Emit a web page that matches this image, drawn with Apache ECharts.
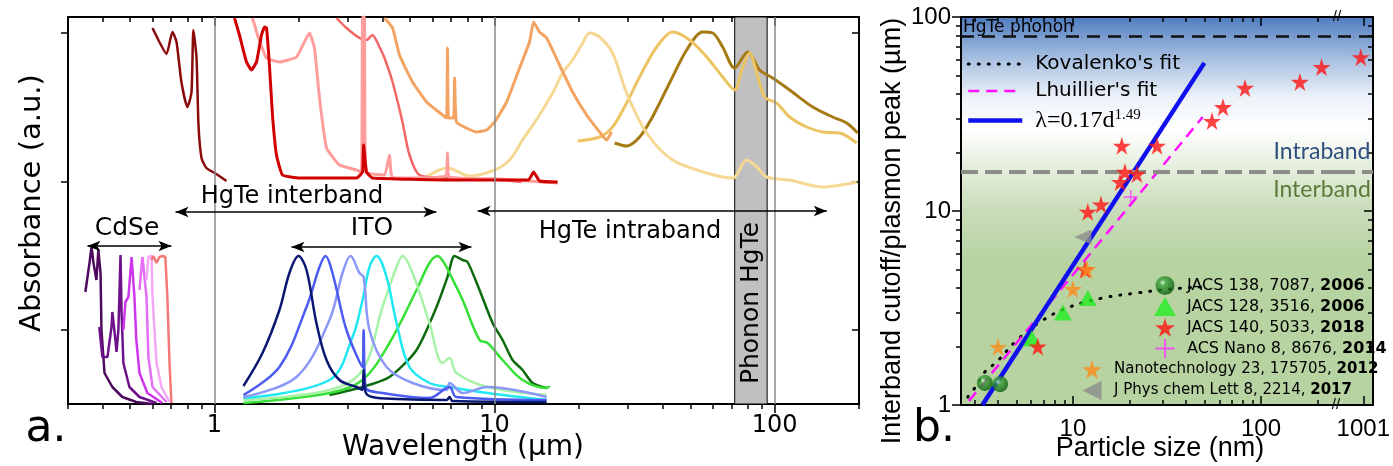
<!DOCTYPE html>
<html><head><meta charset="utf-8">
<script src="https://cdn.jsdelivr.net/npm/echarts@6/dist/echarts.min.js"></script>
<style>html,body{margin:0;padding:0;background:#fff}#c{width:1393px;height:466px}</style>
</head><body><div id="c"></div><script>
// ---------- Panel a: absorbance spectra (x: wavelength in µm, y: absorbance a.u.) ----------
const wlMin = 0.3, wlMax = 200;
const wlLabelTicks = [1, 10, 100];
const wlMinorTicks = [0.3,0.4,0.5,0.6,0.7,0.8,0.9,2,3,4,5,6,7,8,9,20,30,40,50,60,70,80,90,200];
const absMin = 0, absMax = 3.87;
const absTicks = [0.74, 2.22, 3.71];
const phononBand = [72, 94];
const wlGridLines = [1, 10, 100];

// CdSe spectra
const cdse1 = [[0.346,1.12],[0.358,1.41],[0.364,1.57],[0.370,1.41],[0.379,1.24],[0.385,1.54],[0.392,1.31],[0.395,0.74],[0.405,0.31],[0.432,0.17],[0.469,0.07],[0.526,0.02],[0.601,0.0]];
const cdse2 = [[0.388,0.77],[0.398,0.47],[0.415,0.47],[0.429,0.77],[0.432,0.92],[0.443,0.64],[0.447,0.52],[0.454,0.74],[0.462,1.49],[0.466,0.91],[0.473,0.41],[0.497,0.17],[0.540,0.07],[0.621,0.01]];
const cdse3 = [[0.473,0.74],[0.481,1.02],[0.493,1.07],[0.506,1.47],[0.509,1.48],[0.518,1.07],[0.526,0.64],[0.540,0.31],[0.576,0.11],[0.652,0.01]];
const cdse4 = [[0.540,1.14],[0.553,1.47],[0.562,1.48],[0.572,1.07],[0.581,0.47],[0.601,0.17],[0.674,0.02]];
const cdse5 = [[0.572,1.24],[0.581,1.47],[0.596,1.48],[0.601,1.07],[0.621,0.41],[0.647,0.17],[0.691,0.02]];
const cdse6 = [[0.596,1.44],[0.605,1.48],[0.621,1.41],[0.636,1.47],[0.652,1.48],[0.668,1.47],[0.679,1.07],[0.691,0.41],[0.702,0.01]];

// HgTe spectra
const hgte1 = [[0.601,3.76],[0.636,3.62],[0.674,3.50],[0.708,3.72],[0.732,3.62],[0.762,3.22],[0.801,2.97],[0.828,3.12],[0.841,3.74],[0.863,3.46],[0.877,2.79],[0.899,2.46],[0.936,2.36],[1.016,2.30],[1.104,2.23]];
const hgte2 = [[1.179,3.86],[1.228,3.69],[1.301,3.42],[1.356,3.34],[1.413,3.42],[1.472,3.69],[1.509,3.77],[1.534,3.76],[1.571,3.39],[1.611,2.89],[1.665,2.49],[1.749,2.29],[2.012,2.26],[3.215,2.26],[3.378,2.32],[3.407,2.59],[3.49,2.32],[3.664,2.26],[6.904,2.24],[13.2,2.24],[13.78,2.32],[14.47,2.23],[16.79,2.22]];
const hgte3 = [[1.367,3.86],[1.425,3.69],[1.534,3.46],[1.706,3.42],[1.963,3.47],[2.184,3.71],[2.275,3.56],[2.371,3.06],[2.512,2.56],[2.795,2.39],[3.215,2.34],[3.35,2.32],[3.378,3.87],[3.432,3.87],[3.46,2.32],[4.046,2.29],[4.215,2.49],[4.323,2.26],[6.68,2.28],[6.79,2.51],[6.904,2.27],[10.42,2.25],[16.79,2.21]];
const hgte4 = [[2.727,3.86],[2.960,3.76],[3.294,3.66],[3.49,3.64],[3.664,3.69],[3.882,3.57],[4.046,3.46],[4.323,3.22],[4.69,2.82],[4.969,2.49],[5.395,2.29],[6.74,2.26],[10.42,2.24],[12.5,2.22]];
const hgte5 = [[4.046,3.86],[4.323,3.76],[4.577,3.49],[5.096,3.22],[5.72,3.02],[6.52,2.89],[6.74,2.86],[6.79,3.56],[6.85,2.86],[7.14,2.86],[7.20,3.26],[7.31,2.82],[7.94,2.76],[8.62,2.72],[9.36,2.74],[10,2.82],[11.04,3.02],[12.28,3.36],[13.33,3.62],[13.78,3.82],[14.47,3.72],[15.34,3.66],[17.06,3.39],[18.99,3.12],[21.31,2.89],[23.71,2.72],[25.12,2.64],[26.16,2.72]];
const hgte6 = [[5.62,2.26],[6.79,2.36],[8.138,2.28],[10,2.34],[11.31,2.44],[12.59,2.64],[14.24,2.86],[16.11,3.11],[17.49,3.31],[18.99,3.44],[20.45,3.59],[21.84,3.71],[23.71,3.67],[26.38,3.51],[29.6,3.11],[34.9,2.71],[43.2,2.44],[57.2,2.31],[70.8,2.26],[79.4,2.44],[86.3,2.37],[93.6,2.27],[113.1,2.24],[148.3,2.17],[196.3,2.22]];
const hgte7 = [[19.8,2.63],[23.71,2.67],[26.38,2.77],[29.6,3.01],[32.94,3.27],[37.9,3.57],[43.2,3.72],[49.69,3.64],[57.2,3.47],[65.2,3.27],[71.9,3.14],[76.9,3.37],[81.38,3.51],[86.3,3.31],[92.1,3.07],[101.6,3.01],[113.1,2.87],[130.1,2.77],[148.3,2.72],[170.6,2.71],[196.3,2.61]];
const hgte8 = [[26.83,2.61],[29.6,2.58],[32.94,2.67],[36.6,2.87],[42.15,3.21],[48.5,3.54],[55.3,3.72],[60.1,3.71],[65.2,3.57],[71.9,3.36],[80.1,3.52],[88.36,3.34],[98.4,3.26],[113.1,3.14],[136.7,2.97],[161.1,2.87],[180.7,2.81],[197.8,2.71]];

// ITO spectra
const ito1 = [[1.269,0.18],[1.484,0.51],[1.706,0.94],[1.852,1.31],[1.995,1.48],[2.131,1.34],[2.312,0.81],[2.512,0.44],[2.795,0.24],[3.215,0.17],[3.378,0.14],[3.407,0.34],[3.46,0.12],[3.664,0.07],[4.467,0.05],[6.74,0.04],[6.904,0.07],[7.08,0.03],[15.34,0.02]];
const ito2 = [[1.269,0.09],[1.706,0.37],[2.131,0.97],[2.371,1.37],[2.490,1.48],[2.638,1.31],[2.960,0.74],[3.378,0.37],[3.407,0.74],[3.46,0.17],[3.98,0.11],[5.857,0.06],[6.904,0.17],[7.31,0.07],[15.34,0.04]];
const ito3 = [[1.269,0.07],[1.963,0.27],[2.574,0.84],[2.866,1.31],[3.061,1.48],[3.294,1.31],[3.407,1.27],[3.576,0.74],[4.115,0.37],[5.096,0.21],[6.74,0.14],[6.904,0.21],[7.69,0.11],[9.44,0.17],[15.34,0.07]];
const ito4 = [[1.269,0.06],[2.574,0.24],[3.112,0.67],[3.378,1.04],[3.576,1.37],[3.79,1.48],[4.115,1.27],[4.467,0.81],[4.969,0.37],[5.857,0.21],[6.904,0.17],[9.44,0.11],[15.34,0.04]];
const ito5 = [[1.269,0.04],[2.574,0.14],[3.378,0.34],[3.98,0.97],[4.467,1.37],[4.69,1.48],[5.096,1.31],[5.857,0.81],[6.52,0.41],[6.904,0.46],[7.31,0.31],[9.44,0.17],[15.34,0.09]];
const ito6 = [[1.269,0.01],[2.574,0.11],[3.378,0.24],[4.215,0.61],[5.265,1.14],[5.857,1.41],[6.256,1.48],[6.74,1.37],[6.904,1.31],[7.69,1.04],[8.836,0.64],[9.44,0.61],[10.68,0.44],[12.59,0.24],[15.34,0.16],[15.71,0.18]];
const ito7 = [[2.574,0.09],[3.378,0.17],[4.215,0.27],[5.265,0.54],[6.206,0.97],[6.79,1.27],[7.196,1.48],[7.69,1.44],[8.01,1.42],[8.836,1.14],[9.84,0.81],[10.68,0.64],[11.59,0.44],[12.59,0.34],[13.67,0.21],[15.34,0.16]];

// Range arrows (from, to, level)
const rangeArrows = [
  {from:0.352, to:0.702, y:1.58},   // CdSe
  {from:0.726, to:6.2, y:1.92},     // HgTe interband
  {from:1.883, to:8.27, y:1.57},    // ITO
  {from:8.7, to:153.4, y:1.93}      // HgTe intraband
];

// ---------- Panel b: cutoff / plasmon peak vs particle size ----------
const sizeMin = 2.54, sizeMax = 256.8;
const sizeBreakMin = 683, sizeBreakMax = 1158;
const sizeLabelTicks = [10, 100];
const sizeMinorTicks = [3,4,5,6,7,8,9,20,30,40,50,60,70,80,90,200];
const sizeBreakTicks = [1000];
const sizeBreakLabel = '1001';
const peakMin = 1, peakMax = 100;
const peakLabelTicks = [1, 10, 100];
const peakMinorTicks = [2,3,4,5,6,7,8,9,20,30,40,50,60,70,80,90];
const phononLevel = 80;
const interIntraLevel = 16;

const jacs2006a = [[3.4,1.30],[4.1,1.28]];
const jacs2006b = [[6.05,2.2],[8.85,3.0],[12.0,3.56]];
const jacs2018 = [[6.5,2.0],[11.6,5.0],[12.0,9.9],[14.1,10.8],[17.8,14.1],[18.9,15.9],[21.9,15.5],[18.2,21.7],[28,21.7],[54.9,29.1],[62.8,34.3],[82.2,43.1],[161,46.3],[210,55.2]];
const jacs2018Far = [[963,62]];
const acsNano2014 = [[20.3,11.8]];
const nanotech2012 = [[4.0,1.99],[10.0,3.96],[11.9,5.0]];
const jpcl2017 = [[11.3,7.35]];
const fitKovalenko = [[2.76,1.10],[3.09,1.27],[3.4,1.48],[3.94,1.67],[5.04,2.16],[6.93,2.74],[9.6,3.2],[14.4,3.56],[21.9,3.78],[32.8,3.96],[49,4.06]];
const fitLhuillier = [[2.8,1.05],[49,30.5]];
const fitPower = [[3.3,1.0],[50,58]];

const nameKov = "Kovalenko's fit", nameLhu = "Lhuillier's fit", namePow = 'λ=0.17d^1.49';
const nJ06a = 'JACS 138, 7087, 2006', nJ06b = 'JACS 128, 3516, 2006', nJ18 = 'JACS 140, 5033, 2018',
      nACS = 'ACS Nano 8, 8676, 2014', nNano = 'Nanotechnology 23, 175705, 2012', nJP = 'J Phys chem Lett 8, 2214, 2017';

// ---------- option ----------
const DV = 'DejaVu Sans', LS = 'Liberation Sans';
const STAR = 'path://M50,0 L61,35 L98,35 L68,57 L79,91 L50,70 L21,91 L32,57 L2,35 L39,35Z';
const CROSS = 'path://M45,0H55V100H45Z M0,45H100V55H0Z';
const LTRI = 'path://M0,50 L100,0 L100,100Z';
const NOFILL = 'rgba(0,0,0,0)';

const kovStyle = {color:'#000', width:3, type:[1,9], cap:'round'};
const lhuStyle = {color:'#ff10ff', width:2.5, type:[11,7]};
const powStyle = {color:'#1010ee', width:4.5};

function ax(o) {
  return Object.assign({
    type:'log', logBase:10,
    axisLine:{show:false, onZero:false},
    axisTick:{show:false}, axisLabel:{show:false},
    splitLine:{show:false}, minorTick:{show:false}, minorSplitLine:{show:false}
  }, o);
}
const blackLine = {show:true, onZero:false, lineStyle:{color:'#000', width:2}};
const tk = (vals, len, inside) => ({show:true, inside:inside, length:len, customValues:vals, lineStyle:{color:'#000', width:1.5}});

const xAxes = [
  // panel a
  ax({gridIndex:0, position:'bottom', min:wlMin, max:wlMax, axisLine:blackLine, axisTick:tk(wlLabelTicks,9,false),
      axisLabel:{show:true, customValues:wlLabelTicks, margin:10, fontSize:24, fontFamily:DV, color:'#000'}}),
  ax({gridIndex:0, position:'bottom', min:wlMin, max:wlMax, axisTick:tk(wlMinorTicks,5,false)}),
  ax({gridIndex:0, position:'top', min:wlMin, max:wlMax, axisLine:blackLine, axisTick:tk(wlLabelTicks,9,true)}),
  ax({gridIndex:0, position:'top', min:wlMin, max:wlMax, axisTick:tk(wlMinorTicks,5,true)}),
  // panel b main
  ax({gridIndex:1, position:'bottom', min:sizeMin, max:sizeMax, axisLine:blackLine, axisTick:tk(sizeLabelTicks,9,true),
      axisLabel:{show:true, customValues:sizeLabelTicks, margin:12, fontSize:24, fontFamily:LS, color:'#000'}}),
  ax({gridIndex:1, position:'bottom', min:sizeMin, max:sizeMax, axisTick:tk(sizeMinorTicks,5,true)}),
  ax({gridIndex:1, position:'top', min:sizeMin, max:sizeMax, axisLine:blackLine, axisTick:tk(sizeLabelTicks,9,true)}),
  ax({gridIndex:1, position:'top', min:sizeMin, max:sizeMax, axisTick:tk(sizeMinorTicks,5,true)}),
  // panel b after break
  ax({gridIndex:2, position:'bottom', min:sizeBreakMin, max:sizeBreakMax, axisLine:blackLine, axisTick:tk(sizeBreakTicks,9,true),
      axisLabel:{show:true, customValues:sizeBreakTicks, margin:12, fontSize:24, fontFamily:LS, color:'#000', formatter:()=>sizeBreakLabel}}),
  ax({gridIndex:2, position:'top', min:sizeBreakMin, max:sizeBreakMax, axisLine:blackLine, axisTick:tk(sizeBreakTicks,9,true)})
];
const yAxes = [
  ax({type:'value', gridIndex:0, position:'left', min:absMin, max:absMax, axisLine:blackLine, axisTick:tk(absTicks,7,false)}),
  ax({type:'value', gridIndex:0, position:'right', min:absMin, max:absMax, axisLine:blackLine, axisTick:tk(absTicks,7,true)}),
  ax({gridIndex:1, position:'left', min:peakMin, max:peakMax, axisLine:blackLine, axisTick:tk(peakLabelTicks,9,false),
      axisLabel:{show:true, customValues:peakLabelTicks, margin:10, fontSize:24, fontFamily:LS, color:'#000'}}),
  ax({gridIndex:1, position:'left', min:peakMin, max:peakMax, axisTick:tk(peakMinorTicks,5,false)}),
  ax({gridIndex:2, position:'right', min:peakMin, max:peakMax, axisLine:blackLine, axisTick:tk(peakLabelTicks,9,true)}),
  ax({gridIndex:2, position:'right', min:peakMin, max:peakMax, axisTick:tk(peakMinorTicks,5,true)})
];

const bgGrad = {type:'linear', x:0, y:0, x2:0, y2:1, colorStops:[
  {offset:0, color:'#4f7cbf'},{offset:0.11, color:'#a9c1e1'},{offset:0.21, color:'#eef3f9'},
  {offset:0.29, color:'#ffffff'},{offset:0.39, color:'#e4eedc'},{offset:0.5, color:'#c9dcb9'},
  {offset:0.63, color:'#b7d3a2'},{offset:1, color:'#b6d3a1'}]};

function spec(data, color, width, smooth) {
  return {type:'line', xAxisIndex:0, yAxisIndex:0, data:data, symbol:'none', smooth:smooth||false,
          lineStyle:{color:color, width:width||2.5}, z:3, silent:true};
}

const hLines = () => ({symbol:'none', silent:true, label:{show:false}, data:[
  {yAxis:phononLevel, lineStyle:{color:'#111', width:2.5, type:[13,8]}},
  {yAxis:interIntraLevel, lineStyle:{color:'#8d8d88', width:4, type:[17,7]}}]});

const series = [
  // annotations in panel a
  {type:'line', xAxisIndex:0, yAxisIndex:0, data:[], z:1, silent:true,
   markArea:{silent:true, itemStyle:{color:'#c0c0c0', borderColor:'#000', borderWidth:1},
             data:[[{xAxis:phononBand[0]},{xAxis:phononBand[1]}]]},
   markLine:{symbol:'none', silent:true, label:{show:false}, lineStyle:{color:'#8a8a8a', width:1.5, type:'solid'},
             data:wlGridLines.map(v=>({xAxis:v}))}},
  {type:'line', xAxisIndex:0, yAxisIndex:0, data:[], z:4, silent:true,
   markLine:{symbol:['arrow','arrow'], symbolSize:[8,13], silent:true, label:{show:false},
             lineStyle:{color:'#000', width:1.5, type:'solid'},
             data:rangeArrows.map(a=>[{coord:[a.from,a.y]},{coord:[a.to,a.y]}])}},
  spec(cdse1,'#4e0a5e',2.5), spec(cdse2,'#6e128c',2.5), spec(cdse3,'#d035ee',2.5),
  spec(cdse4,'#e46ef4',2.5), spec(cdse5,'#f2a8f4',2.5), spec(cdse6,'#f57878',2.5),
  spec(hgte8,'#a67a12',3,0.3), spec(hgte7,'#ecc463',3,0.3), spec(hgte6,'#f6d894',3,0.3), spec(hgte5,'#f4a462',3,0.15),
  spec(hgte4,'#f26666',2.5,0.25), spec(hgte3,'#ff9c9c',3,0.12), spec(hgte2,'#d10000',3,0.12), spec(hgte1,'#8b0a0a',2.5,0.2),
  spec(ito7,'#0d6a0d',2.5,0.25), spec(ito6,'#36e036',2.5,0.35), spec(ito5,'#a8f2a8',2.5,0.35),
  spec(ito4,'#20e8f2',2.5,0.35), spec(ito3,'#8c98f8',2.5,0.35), spec(ito2,'#4c5cf0',2.5,0.35), spec(ito1,'#0b1872',2.5,0.35),

  // panel b
  {type:'line', name:nameKov, xAxisIndex:4, yAxisIndex:2, data:fitKovalenko, symbol:'none', smooth:0.4, z:3,
   itemStyle:{color:NOFILL}, lineStyle:kovStyle},
  {type:'line', name:nameLhu, xAxisIndex:4, yAxisIndex:2, data:fitLhuillier, symbol:'none', z:3,
   itemStyle:{color:NOFILL}, lineStyle:lhuStyle},
  {type:'line', name:namePow, xAxisIndex:4, yAxisIndex:2, data:fitPower, symbol:'none', z:4,
   itemStyle:{color:NOFILL}, lineStyle:powStyle, markLine:hLines()},
  {type:'scatter', name:nJ06a, xAxisIndex:4, yAxisIndex:2, data:jacs2006a, symbol:'circle', symbolSize:16, z:5,
   itemStyle:{color:{type:'radial', x:0.38, y:0.35, r:0.65, colorStops:[{offset:0,color:'#e6ffe6'},{offset:0.25,color:'#3ea43e'},{offset:1,color:'#0b5e0b'}]}}},
  {type:'scatter', name:nJ06b, xAxisIndex:4, yAxisIndex:2, data:jacs2006b, symbol:'triangle', symbolSize:[18,16], z:5,
   itemStyle:{color:'#22ee22'}},
  {type:'scatter', name:nJ18, xAxisIndex:4, yAxisIndex:2, data:jacs2018, symbol:STAR, symbolSize:18, z:5,
   itemStyle:{color:'#ff1414'}},
  {type:'scatter', name:nJ18, xAxisIndex:8, yAxisIndex:4, data:jacs2018Far, symbol:STAR, symbolSize:18, z:5,
   itemStyle:{color:'#ff1414'}, markLine:hLines()},
  {type:'scatter', name:nACS, xAxisIndex:4, yAxisIndex:2, data:acsNano2014, symbol:CROSS, symbolSize:14, z:5,
   itemStyle:{color:'#ff33ff'}},
  {type:'scatter', name:nNano, xAxisIndex:4, yAxisIndex:2, data:nanotech2012, symbol:STAR, symbolSize:18, z:5,
   itemStyle:{color:'#ff8c1a'}},
  {type:'scatter', name:nJP, xAxisIndex:4, yAxisIndex:2, data:jpcl2017, symbol:LTRI, symbolSize:[17,15], z:5,
   itemStyle:{color:'#8c8c8c'}}
];

const legTxt = (fs) => ({color:'#000', fontFamily:DV, fontSize:fs, padding:[0,0,0,6],
  rich:{b:{fontFamily:DV, fontSize:fs, fontWeight:'bold', color:'#000'}}});
const yearFmt = n => { const i = n.lastIndexOf(' '); return n.slice(0,i+1) + '{b|' + n.slice(i+1) + '}'; };

const option = {
  animation:false,
  backgroundColor:'#fff',
  grid:[
    {left:68, top:17, width:791, height:387},
    {left:961, top:17, width:377, height:388, show:true, backgroundColor:bgGrad, borderWidth:0},
    {left:1338, top:17, width:43, height:388, show:true, backgroundColor:bgGrad, borderWidth:0}
  ],
  xAxis:xAxes, yAxis:yAxes,
  legend:[
    {data:[{name:nameKov, lineStyle:kovStyle}, {name:nameLhu, lineStyle:lhuStyle}, {name:namePow, lineStyle:powStyle}],
     left:961, top:49, orient:'vertical', itemWidth:54, itemHeight:24, itemGap:7,
     selectedMode:false, itemStyle:{color:NOFILL, borderWidth:0, opacity:0},
     textStyle:{color:'#000', fontFamily:DV, fontSize:20, padding:[0,0,0,8],
       rich:{s:{fontFamily:'Liberation Serif', fontSize:24, color:'#000'},
             p:{fontFamily:'Liberation Serif', fontSize:15, color:'#000', verticalAlign:'top', padding:[0,0,10,0]}}},
     formatter:n => n === namePow ? '{s|λ=0.17d}{p|1.49}' : n},
    {data:[nJ06a, nJ06b, nJ18, nACS], left:1149, top:271, orient:'vertical', itemWidth:22, itemHeight:19, itemGap:2,
     selectedMode:false, textStyle:legTxt(16), formatter:yearFmt},
    {data:[nNano, nJP], left:1077, top:355, orient:'vertical', itemWidth:22, itemHeight:19, itemGap:2,
     selectedMode:false, textStyle:legTxt(15), formatter:yearFmt}
  ],
  graphic:[
    {type:'text', x:32, y:203, rotation:Math.PI/2, z:100, style:{text:'Absorbance (a.u.)', fontSize:29, fontFamily:DV, fill:'#000', align:'center', verticalAlign:'middle'}},
    {type:'text', x:463, y:448, z:100, style:{text:'Wavelength (µm)', fontSize:28, fontFamily:DV, fill:'#000', align:'center', verticalAlign:'middle'}},
    {type:'text', x:46, y:430, z:100, style:{text:'a.', fontSize:44, fontFamily:DV, fill:'#000', align:'center', verticalAlign:'middle'}},
    {type:'text', x:292, y:197, z:100, style:{text:'HgTe interband', fontSize:24, fontFamily:DV, fill:'#000', align:'center', verticalAlign:'middle'}},
    {type:'text', x:127, y:228, z:100, style:{text:'CdSe', fontSize:25, fontFamily:DV, fill:'#000', align:'center', verticalAlign:'middle'}},
    {type:'text', x:372, y:228, z:100, style:{text:'ITO', fontSize:25, fontFamily:DV, fill:'#000', align:'center', verticalAlign:'middle'}},
    {type:'text', x:630, y:232, z:100, style:{text:'HgTe intraband', fontSize:24, fontFamily:DV, fill:'#000', align:'center', verticalAlign:'middle'}},
    {type:'text', x:751, y:303, rotation:Math.PI/2, z:100, style:{text:'Phonon HgTe', fontSize:25, fontFamily:DV, fill:'#000', align:'center', verticalAlign:'middle'}},

    {type:'text', x:893, y:231, rotation:Math.PI/2, z:100, style:{text:'Interband cutoff/plasmon peak (µm)', fontSize:27, fontFamily:LS, fill:'#000', align:'center', verticalAlign:'middle'}},
    {type:'text', x:1160, y:449, z:100, style:{text:'Particle size (nm)', fontSize:27, fontFamily:LS, fill:'#000', align:'center', verticalAlign:'middle'}},
    {type:'text', x:934, y:430, z:100, style:{text:'b.', fontSize:44, fontFamily:DV, fill:'#000', align:'center', verticalAlign:'middle'}},
    {type:'text', x:963, y:28, z:100, style:{text:'HgTe phonon', fontSize:17, fontFamily:DV, fill:'#000', align:'left', verticalAlign:'middle'}},
    {type:'text', x:1322, y:152, z:100, style:{text:'Intraband', fontSize:23, fontFamily:'Lato', fill:'#2f4f80', align:'center', verticalAlign:'middle'}},
    {type:'text', x:1322, y:190, z:100, style:{text:'Interband', fontSize:23, fontFamily:'Lato', fill:'#5b7a3a', align:'center', verticalAlign:'middle'}},
    {type:'text', x:1337, y:17, z:100, style:{text:'//', fontSize:15, fontFamily:LS, fill:'#000', align:'center', verticalAlign:'middle'}},
    {type:'text', x:1336, y:405, z:100, style:{text:'//', fontSize:15, fontFamily:LS, fill:'#000', align:'center', verticalAlign:'middle'}}
  ],
  series:series
};

const chart = echarts.init(document.getElementById('c'), null, {renderer:'canvas'});
chart.setOption(option);
</script></body></html>
